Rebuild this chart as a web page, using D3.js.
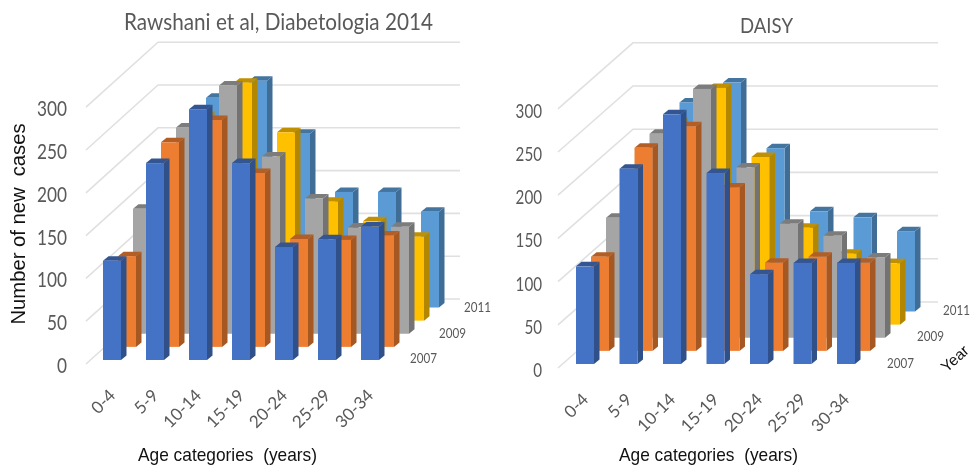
<!DOCTYPE html>
<html><head><meta charset="utf-8">
<script src="https://cdn.jsdelivr.net/npm/d3@7"></script>
<style>
html,body{margin:0;padding:0;background:#fff;overflow:hidden}
svg{display:block;filter:blur(0.6px)}
text{white-space:pre}
</style></head><body>
<svg id="c" width="974" height="468"></svg>
<script>
const ageCategories=["0-4","5-9","10-14","15-19","20-24","25-29","30-34"];
const years=["2007","2008","2009","2010","2011"];
const yearLabels=["2007","2009","2011"];
const valueTicks=[0,50,100,150,200,250,300];
const seriesColors=["#4472C4","#ED7D31","#A5A5A5","#FFC000","#5B9BD5"];
const rawshani2007=[116,230,293,230,132,141,156];
const rawshani2008=[106,239,265,203,126,125,130];
const rawshani2009=[146,241,290,207,158,124,125];
const rawshani2010=[130,240,278,220,139,116,98];
const rawshani2011=[150,245,265,203,135,135,112];
const daisy2007=[113,226,289,221,104,117,117];
const daisy2008=[109,235,260,189,102,109,102];
const daisy2009=[139,236,288,197,132,118,93];
const daisy2010=[125,235,274,194,112,82,71];
const daisy2011=[140,242,265,189,116,109,93];

const panels=[
 {title:"Rawshani et al, Diabetologia 2014",titleX:278.5,titleY:21,titleLen:309,titleSize:23,
  series:[rawshani2007,rawshani2008,rawshani2009,rawshani2010,rawshani2011],
  firstBar:103,lastBar:361,base:360,zero:364,corner:86,back:158,right:460,unit:42.8,depthY:65,
  tickX:67,tickSize:21.5,tickW:10,catY:392,yearPos:[[410,358],[439,333],[464,307]],axisTitleX:138,axisTitleLen:179},
 {title:"DAISY",titleX:766.5,titleY:24,titleLen:53,titleSize:22,
  series:[daisy2007,daisy2008,daisy2009,daisy2010,daisy2011],
  firstBar:576,lastBar:837,base:364,zero:368,corner:558,back:633,right:938,unit:43.2,depthY:66,
  tickX:542,tickSize:20,tickW:8.8,catY:396,yearPos:[[887,363],[917,336],[943,310]],axisTitleX:619,axisTitleLen:179}
];

const svg=d3.select("#c");
const SANS="Lato, sans-serif", ARIAL="'Liberation Sans', Arial, sans-serif";
const grey="#595959";
function label(g,txt,x,y,size,fill,family,anchor,len){
  const t=g.append("text").attr("x",x).attr("y",y).attr("font-size",size).attr("fill",fill)
    .attr("font-family",family).attr("text-anchor",anchor).attr("dominant-baseline","central").text(txt);
  if(len) t.attr("textLength",len).attr("lengthAdjust","spacingAndGlyphs");
  return t;
}
panels.forEach(p=>{
  const g=svg.append("g");
  const barW=18, sideX=5.5, sideY=4.5;
  const xCat=d3.scalePoint().domain(ageCategories).range([p.firstBar,p.lastBar]);
  const rowX=d3.scalePoint().domain(years).range([0,60]);
  const rowY=d3.scalePoint().domain(years).range([0,52.5]);
  const h=d3.scaleLinear().domain([0,50]).range([0,p.unit]);
  const yFront=d3.scaleLinear().domain([0,300]).range([p.zero,p.zero-h(300)]);
  valueTicks.forEach(v=>{
    const y=yFront(v);
    g.append("path").attr("fill","none").attr("stroke","#e0e0e0").attr("stroke-width",1.6)
      .attr("d",d3.line()([[p.corner,y],[p.back,y-p.depthY],[p.right,y-p.depthY]]));
    label(g,String(v),p.tickX,y+1,p.tickSize,grey,SANS,"end",String(v).length*p.tickW);
  });
  years.map((yr,i)=>i).reverse().forEach(i=>{
    const yr=years[i], col=seriesColors[i], vals=p.series[i];
    const row=g.append("g");
    const d=vals.map((v,k)=>({v,cat:ageCategories[k]}));
    const X=a=>xCat(a.cat)+rowX(yr), B=()=>p.base-rowY(yr), T=a=>B()-h(a.v);
    const bar=row.selectAll("g").data(d).join("g");
    bar.append("path").attr("fill",d3.color(col).darker(1.0)).attr("d",a=>{
      const x=X(a)+barW,t=T(a),b=B();
      return d3.line()([[x,t],[x+sideX,t-sideY],[x+sideX,b-sideY],[x,b]])+"Z";});
    bar.append("path").attr("fill",d3.color(col).darker(0.8)).attr("d",a=>{
      const x=X(a),t=T(a);
      return d3.line()([[x,t],[x+sideX,t-sideY],[x+barW+sideX,t-sideY],[x+barW,t]])+"Z";});
    bar.append("rect").attr("fill",col).attr("x",X).attr("y",T).attr("width",barW).attr("height",a=>h(a.v));
  });
  ageCategories.forEach(c=>{
    const x=xCat(c)+9;
    g.append("text").attr("transform",`translate(${x},${p.catY}) rotate(-45)`)
      .attr("text-anchor","end").attr("dominant-baseline","central")
      .attr("font-size",17).attr("font-family",SANS).attr("fill",grey).text(c);
  });
  yearLabels.forEach((y,i)=>label(g,y,p.yearPos[i][0],p.yearPos[i][1],13,grey,SANS,"start",27));
  label(g,p.title,p.titleX,p.titleY,p.titleSize,grey,SANS,"middle",p.titleLen);
  label(g,"Age categories  (years)",p.axisTitleX,454,19,"#111",ARIAL,"start",p.axisTitleLen);
});
svg.append("text").attr("transform","translate(17.5,224) rotate(-90)").attr("text-anchor","middle")
  .attr("dominant-baseline","central").attr("font-size",20).attr("font-family",ARIAL).attr("fill","#111")
  .attr("textLength",201).attr("lengthAdjust","spacingAndGlyphs").text("Number of new  cases");
svg.append("text").attr("transform","translate(943,369) rotate(-42)").attr("text-anchor","start")
  .attr("dominant-baseline","central").attr("font-size",15.5).attr("font-family",ARIAL).attr("fill","#111").text("Year");
</script>
</body></html>
